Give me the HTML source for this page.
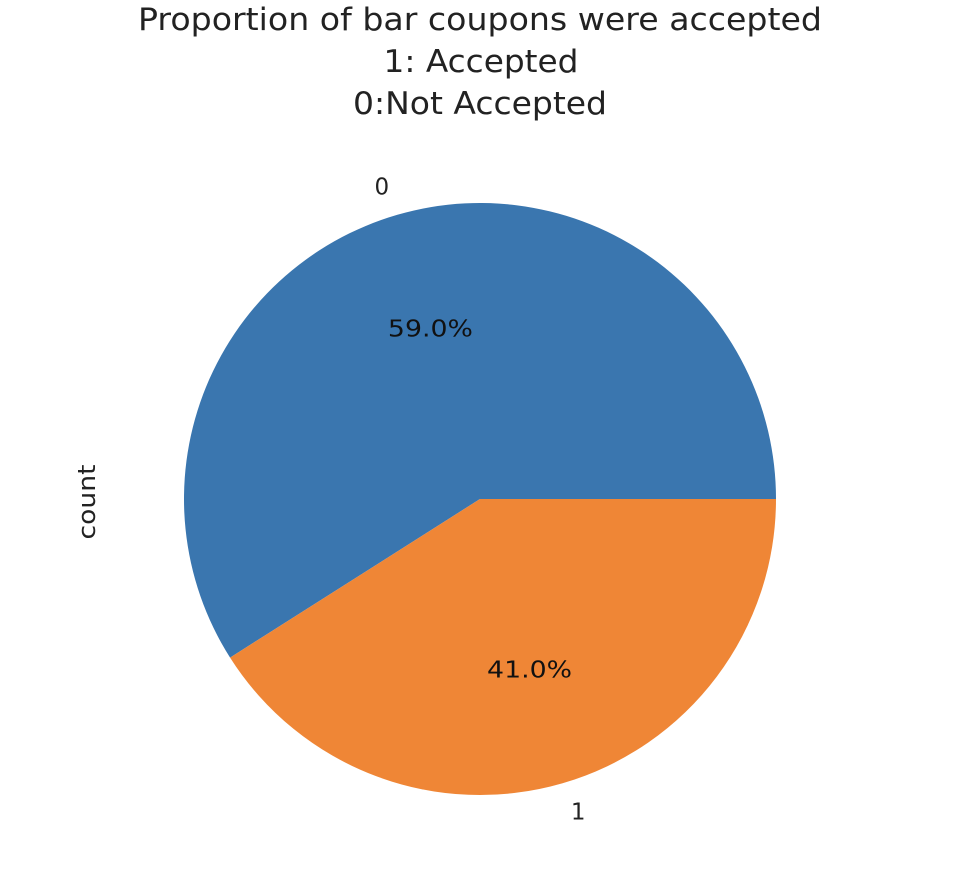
<!DOCTYPE html>
<html><head><meta charset="utf-8"><style>
body{margin:0;background:#fff;}
svg{display:block;font-family:"DejaVu Sans","Liberation Sans",sans-serif;}
</style></head><body>
<svg id="chart" width="976" height="886">
<g font-size="31" fill="#222" text-anchor="middle">
<text x="480" y="30" textLength="684" lengthAdjust="spacingAndGlyphs">Proportion of bar coupons were accepted</text>
<text x="481" y="72" textLength="195" lengthAdjust="spacingAndGlyphs">1: Accepted</text>
<text x="480" y="114" textLength="254" lengthAdjust="spacingAndGlyphs">0:Not Accepted</text>
</g>
<text x="0" y="0" font-size="24" fill="#222" text-anchor="middle" textLength="75" lengthAdjust="spacingAndGlyphs" transform="translate(95,502) rotate(-90)">count</text>
<g id="slices"></g>
</svg>
<script>
const categories = ["0", "1"];
const values = [59.0, 41.0];
const colors = ["#3a76af", "#ef8636"];
const cx = 480, cy = 499, r = 296;
const svg = document.getElementById('slices');
const NS = "http://www.w3.org/2000/svg";
const total = values.reduce((a,b)=>a+b,0);
let start = 0;
function pt(deg, rr){const a=deg*Math.PI/180;return [cx+rr*Math.cos(a), cy-rr*Math.sin(a)];}
values.forEach((v,i)=>{
  const sweep = v/total*360, end = start+sweep;
  const [x1,y1]=pt(start,r),[x2,y2]=pt(end,r);
  const p=document.createElementNS(NS,'path');
  p.setAttribute('d',`M${cx},${cy} L${x1},${y1} A${r},${r} 0 ${sweep>180?1:0} 0 ${x2},${y2} Z`);
  p.setAttribute('fill',colors[i]);
  
  
  svg.appendChild(p);
  const mid=(start+end)/2;
  const [lx,ly]=pt(mid,1.1*r);
  const t=document.createElementNS(NS,'text');
  t.setAttribute('x',lx);t.setAttribute('y',ly+8);
  t.setAttribute('font-size','23');t.setAttribute('fill','#222');
  t.setAttribute('text-anchor',Math.cos(mid*Math.PI/180)<0?'end':'start');
  t.textContent=categories[i];
  
  
  svg.appendChild(t);
  const [px,py]=pt(mid,0.6*r);
  const pc=document.createElementNS(NS,'text');
  pc.setAttribute('x',px);pc.setAttribute('y',py+8);
  pc.setAttribute('font-size','23');pc.setAttribute('fill','#111');
  pc.setAttribute('text-anchor','middle');
  pc.setAttribute('textLength','85');
  pc.setAttribute('lengthAdjust','spacingAndGlyphs');
  pc.textContent=(v/total*100).toFixed(1)+'%';
  
  
  svg.appendChild(pc);
  start=end;
});
</script>
</body></html>
